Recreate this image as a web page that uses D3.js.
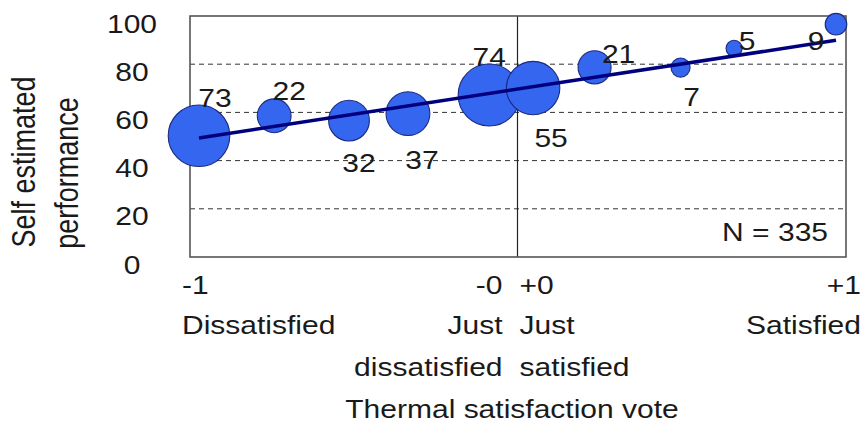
<!DOCTYPE html>
<html>
<head>
<meta charset="utf-8">
<script src="https://cdn.jsdelivr.net/npm/d3@7"></script>
<style>
  body { margin: 0; background: #fff; }
  text { font-family: "Liberation Sans", Arial, sans-serif; fill: #1a1a1a; }
</style>
</head>
<body>
<div id="chart"></div>
<script>
// bubble data
let votes = [-1, -0.764, -0.529, -0.344, -0.089, 0.049, 0.242, 0.512, 0.68, 1.0];
let perf = [50.3, 58.6, 56.6, 59.5, 67.2, 70.1, 78.7, 78.6, 86.6, 96.6];
let counts = [73, 22, 32, 37, 74, 55, 21, 7, 5, 9];
// regression line end points
let trendX = [-1, 1];
let trendY = [49.4, 89.9];
let yTicks = [0, 20, 40, 60, 80, 100];
let gridTicks = [20, 40, 60, 80];
let xTickVals = [-1, 0, 0, 1];
let xTickText = ["-1", "-0", "+0", "+1"];
let xCatLine1 = ["Dissatisfied", "Just", "Just", "Satisfied"];
let xCatLine2 = ["", "dissatisfied", "satisfied", ""];
let nText = "N = 335";

let width = 863, height = 424;
let frame = { left: 190, right: 846, top: 16, bottom: 257 };
let sx = 1.2; // text in the picture is wide

let svg = d3.select("#chart")
    .append("svg")
    .attr("width", width)
    .attr("height", height);

let x = d3.scaleLinear().domain([-1, 1]).range([199, 836]);
let y = d3.scaleLinear().domain([0, 100]).range([frame.bottom, frame.top]);
let r = d3.scaleSqrt().domain([0, 74]).range([0, 31]);

let addText = function (str, px, py, anchor, size) {
    return svg.append("text")
        .attr("transform", "translate(" + px + "," + py + ") scale(" + sx + ",1)")
        .attr("text-anchor", anchor)
        .style("font-size", (size || 25) + "px")
        .text(str);
};

// dashed grid
svg.selectAll(".grid")
    .data(gridTicks)
    .enter()
    .append("line")
    .attr("x1", frame.left)
    .attr("x2", frame.right)
    .attr("y1", d => y(d))
    .attr("y2", d => y(d))
    .attr("stroke", "#333")
    .attr("stroke-width", 1)
    .attr("stroke-dasharray", "5,4");

// divider at zero
svg.append("line")
    .attr("x1", x(0)).attr("x2", x(0))
    .attr("y1", frame.top).attr("y2", frame.bottom)
    .attr("stroke", "#222")
    .attr("stroke-width", 1.2);

// frame
svg.append("rect")
    .attr("x", frame.left)
    .attr("y", frame.top)
    .attr("width", frame.right - frame.left)
    .attr("height", frame.bottom - frame.top)
    .attr("fill", "none")
    .attr("stroke", "#555")
    .attr("stroke-width", 1.6);

// y ticks
yTicks.forEach(function (t) {
    addText(String(t), 132, y(t) + 16.5, "middle");
});

// y title
svg.append("text")
    .attr("transform", "translate(35,162) rotate(-90) scale(1," + sx + ")")
    .attr("text-anchor", "middle")
    .style("font-size", "27px")
    .text("Self estimated");
svg.append("text")
    .attr("transform", "translate(78,173) rotate(-90) scale(1," + sx + ")")
    .attr("text-anchor", "middle")
    .style("font-size", "27px")
    .text("performance");

// x tick labels and category names
let xOff = [-17, -15, 2, 25];
let xAnchor = ["start", "end", "start", "end"];
xTickVals.forEach(function (v, i) {
    let px = x(v) + xOff[i];
    addText(xTickText[i], px, 294, xAnchor[i]);
    addText(xCatLine1[i], px, 334, xAnchor[i]);
    if (xCatLine2[i]) addText(xCatLine2[i], px, 376, xAnchor[i]);
});
addText("Thermal satisfaction vote", (frame.left + frame.right) / 2 - 6, 418, "middle");

// bubbles
let pts = votes.map((v, i) => ({ v: v, p: perf[i], n: counts[i] }));
svg.selectAll(".bubble")
    .data(pts)
    .enter()
    .append("circle")
    .attr("cx", d => x(d.v))
    .attr("cy", d => y(d.p))
    .attr("r", d => r(d.n))
    .attr("fill", "#3466f0")
    .attr("stroke", "#1c2a80")
    .attr("stroke-width", 1.1);

// trend line
svg.append("path")
    .datum(trendX.map((v, i) => [v, trendY[i]]))
    .attr("d", d3.line().x(d => x(d[0])).y(d => y(d[1])))
    .attr("stroke", "#00007f")
    .attr("stroke-width", 3.5)
    .attr("fill", "none");

// count labels, offsets from bubble centre
let labelDx = [16, 15, 10, 14, 0, 18, 24, 11, 13, -20];
let labelDy = [-38, -25, 42, 46, -38, 50, -13, 29, -7, 17];
pts.forEach(function (d, i) {
    addText(String(d.n), x(d.v) + labelDx[i], y(d.p) + labelDy[i] + 9, "middle");
});

addText(nText, 828, 241, "end");
</script>
</body>
</html>
